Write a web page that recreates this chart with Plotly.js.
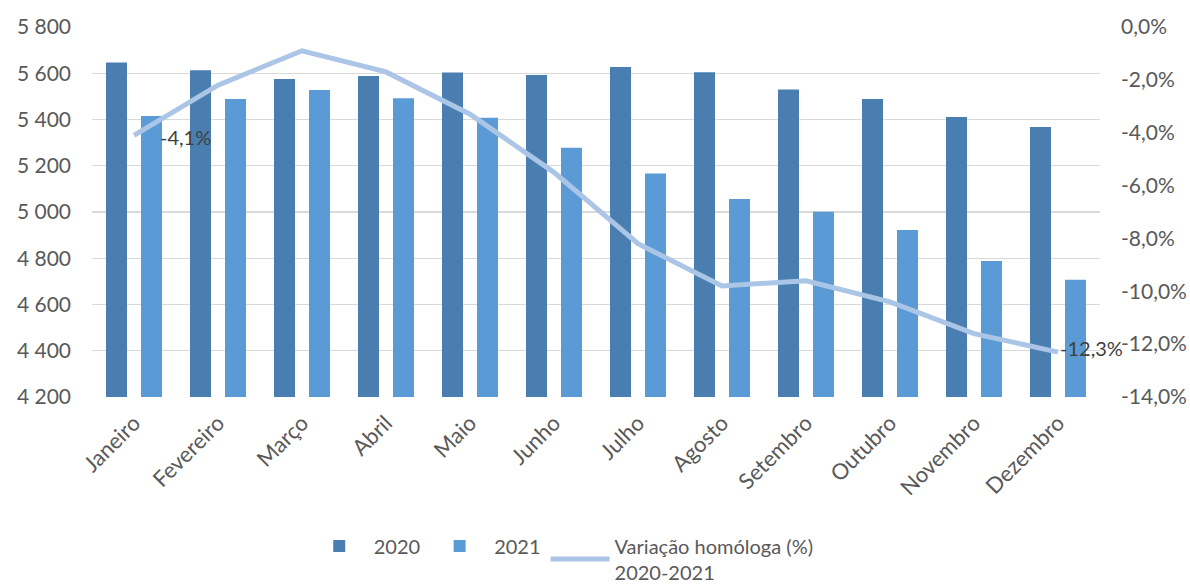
<!DOCTYPE html>
<html>
<head>
<meta charset="utf-8">
<script src="https://cdn.plot.ly/plotly-3.0.1.min.js"></script>
<style>html,body{margin:0;padding:0;background:#fff;}#chart{width:1190px;height:586px;}</style>
</head>
<body>
<div id="chart"></div>
<script>
const months = ["Janeiro","Fevereiro","Março","Abril","Maio","Junho","Julho","Agosto","Setembro","Outubro","Novembro","Dezembro"];
const values2020 = [5647, 5613, 5575, 5588, 5603, 5592, 5627, 5604, 5530, 5489, 5411, 5368];
const values2021 = [5415, 5489, 5528, 5492, 5408, 5278, 5166, 5056, 5001, 4922, 4788, 4707];
const variation = [-4.1, -2.2, -0.9, -1.7, -3.3, -5.5, -8.2, -9.8, -9.6, -10.4, -11.6, -12.3];
const leftTickVals = [4200, 4400, 4600, 4800, 5000, 5200, 5400, 5600, 5800];
const leftTickText = ["4 200","4 400","4 600","4 800","5 000","5 200","5 400","5 600","5 800"];
const rightTickVals = [-14, -12, -10, -8, -6, -4, -2, 0];
const rightTickText = ["-14,0%","-12,0%","-10,0%","-8,0%","-6,0%","-4,0%","-2,0%","0,0%"];
const seriesNames = ["2020", "2021", "Variação homóloga (%)<br>2020-2021"];
const labelIdx = [0, 11];

const fontFam = "Lato, 'Open Sans', sans-serif";
const txtColor = "#595959";
const fs = 20;

const fmtPct = v => v.toFixed(1).replace(".", ",") + "%";

const traces = [
  {type:"bar", name:seriesNames[0], x:months, y:values2020, marker:{color:"#4a7eb0"}, yaxis:"y", hoverinfo:"skip"},
  {type:"bar", name:seriesNames[1], x:months, y:values2021, marker:{color:"#5b9bd5"}, yaxis:"y", hoverinfo:"skip"},
  {type:"scatter", mode:"lines", name:seriesNames[2], x:months, y:variation, yaxis:"y2",
   line:{color:"#abc5e6", width:5}, hoverinfo:"skip"}
];

const labelShift = [24, 0];
const annotations = labelIdx.map((i, k) => ({
  x: months[i], y: variation[i], xref:"x", yref:"y2",
  text: fmtPct(variation[i]), showarrow:false, xanchor:"left", yanchor:"middle",
  xshift: labelShift[k], yshift: k === 0 ? -2 : 4,
  font:{family:fontFam, size:fs, color:"#404040"}
}));

const layout = {
  width:1190, height:586,
  margin:{l:92, r:90, t:27, b:189, autoexpand:false},
  paper_bgcolor:"#fff", plot_bgcolor:"#fff",
  font:{family:fontFam, size:fs, color:txtColor},
  barmode:"group", bargap:0.167, bargroupgap:0.4,
  showlegend:true,
  legend:{orientation:"h", x:0.466, xanchor:"center", y:-0.35, yanchor:"top",
          font:{family:fontFam, size:fs, color:txtColor}, traceorder:"normal",
          itemwidth:59},
  xaxis:{type:"category", range:[-0.5, 11.5], tickangle:-45, showgrid:false, zeroline:false, showline:false, automargin:false,
         ticks:"", ticklabelstandoff:8, tickfont:{family:fontFam, size:22, color:txtColor}},
  yaxis:{range:[4200,5800], tickvals:leftTickVals, ticktext:leftTickText, showgrid:true, automargin:false,
         gridcolor:"#d9d9d9", gridwidth:1.3, zeroline:false, showline:false, ticks:"",
         ticklabelstandoff:20, tickfont:{family:fontFam, size:21, color:txtColor}},
  yaxis2:{range:[-14,0], tickvals:rightTickVals, ticktext:rightTickText, overlaying:"y", side:"right", automargin:false,
          showgrid:false, zeroline:false, showline:false, ticks:"", ticklabelstandoff:20,
          tickfont:{family:fontFam, size:21, color:txtColor}},
  annotations: annotations
};

Plotly.newPlot("chart", traces, layout, {displayModeBar:false, staticPlot:true});
</script>
</body>
</html>
